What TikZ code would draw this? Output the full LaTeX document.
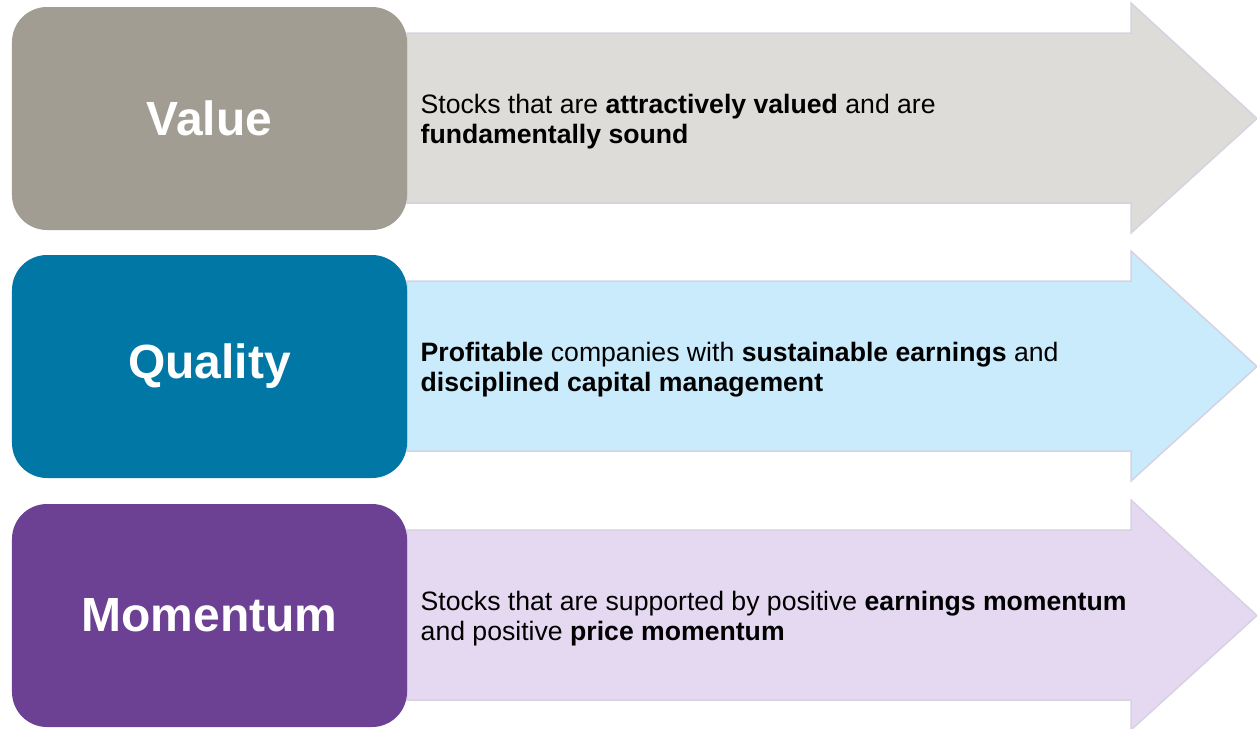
\documentclass[tikz,border=0pt]{standalone}
\usepackage{fontspec}
\setmainfont{Liberation Sans}
\usetikzlibrary{positioning}

\definecolor{valuefill}{HTML}{A29D92}
\definecolor{valueband}{HTML}{DDDCD9}
\definecolor{qualityfill}{HTML}{0077A4}
\definecolor{qualityband}{HTML}{C9EBFC}
\definecolor{momentumfill}{HTML}{6C4193}
\definecolor{momentumband}{HTML}{E5D9F2}
\definecolor{bandline}{HTML}{D6D2E2}

\tikzset{
  factor/.style={rounded corners=7mm, minimum width=79mm, minimum height=44.6mm,
    inner sep=0pt, text=white, font=\fontsize{27.3}{30}\selectfont\bfseries},
  band/.style={draw=bandline, line width=0.3mm, line join=miter},
  blurb/.style={align=left, inner sep=0pt, yshift=-0.6mm,
    font=\fontsize{15.15}{17.2}\selectfont},
}

\begin{document}
\begin{tikzpicture}[x=0.2mm, y=-0.2mm]
  \useasboundingbox (0,0) rectangle (1257,728);

  % arrows behind the boxes
  \draw [band, fill=valueband] (407,33) -- (1131,33) -- (1131,3) -- (1257,118.5)
    -- (1131,233) -- (1131,203) -- (407,203) -- cycle;
  \draw [band, fill=qualityband] (407,281) -- (1131,281) -- (1131,251) -- (1257,366.5)
    -- (1131,481) -- (1131,451) -- (407,451) -- cycle;
  \draw [band, fill=momentumband] (407,530) -- (1131,530) -- (1131,500) -- (1257,615.5)
    -- (1131,730) -- (1131,700) -- (407,700) -- cycle;

  % factor boxes
  \node [factor, fill=valuefill] (value) at (209.5,118.5) {\raisebox{-0.3mm}{Value}};
  \node [factor, fill=qualityfill] (quality) at (209.5,366.5) {\raisebox{-0.6mm}{Quality}};
  \node [factor, fill=momentumfill] (momentum) at (209.5,615.5) {\raisebox{-0.3mm}{Momentum}};

  % descriptions
  \node [blurb, right=2.6mm of value] (valuetext)
    {Stocks that are \textbf{attractively valued} and are\\
     \textbf{fundamentally sound}};
  \node [blurb, right=2.6mm of quality] (qualitytext)
    {\textbf{Profitable} companies with \textbf{sustainable earnings} and\\
     \textbf{disciplined capital management}};
  \node [blurb, right=2.6mm of momentum] (momentumtext)
    {Stocks that are supported by positive \textbf{earnings momentum}\\
     and positive \textbf{price momentum}};
\end{tikzpicture}
\end{document}
